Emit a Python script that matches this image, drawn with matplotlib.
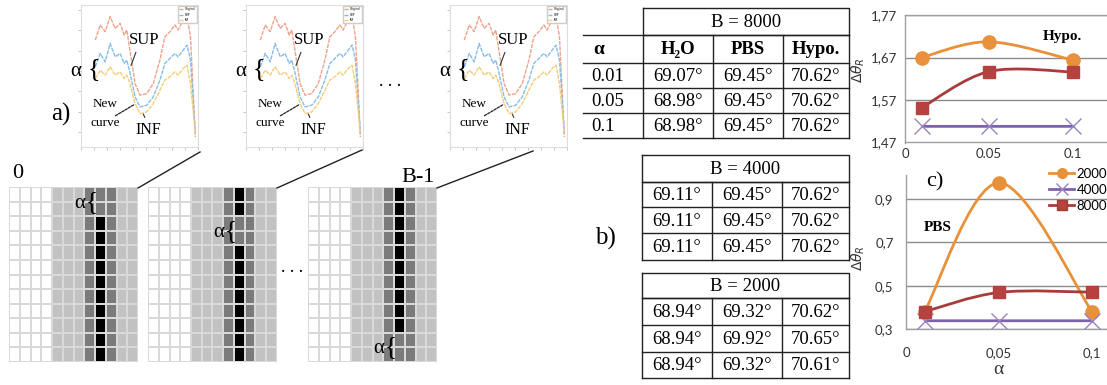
import numpy as np
import matplotlib
matplotlib.use('Agg')
import matplotlib.pyplot as plt
from matplotlib.colors import ListedColormap
from matplotlib.path import Path
from matplotlib.patches import PathPatch
from matplotlib.lines import Line2D

# ---------------- data ----------------
# c) charts
alpha_vals = [0.01, 0.05, 0.1]
series_labels = ['2000', '4000', '8000']
hypo_2000 = [1.670, 1.707, 1.664]
hypo_4000 = [1.508, 1.508, 1.508]
hypo_8000 = [1.552, 1.637, 1.636]
pbs_2000 = [0.380, 0.975, 0.380]
pbs_4000 = [0.338, 0.338, 0.338]
pbs_8000 = [0.380, 0.469, 0.470]
hypo_yticks = [1.47, 1.57, 1.67, 1.77]
hypo_yticklabels = ['1,47', '1,57', '1,67', '1,77']
hypo_xticks = [0, 0.05, 0.1]
hypo_xticklabels = ['0', '0.05', '0.1']
pbs_yticks = [0.3, 0.5, 0.7, 0.9]
pbs_yticklabels = ['0,3', '0,5', '0,7', '0,9']
pbs_xticks = [0, 0.05, 0.1]
pbs_xticklabels = ['0', '0,05', '0,1']

# b) tables
table_headers = ['H₂O', 'PBS', 'Hypo.']
table_alpha = ['0.01', '0.05', '0.1']
table_titles = ['B = 8000', 'B = 4000', 'B = 2000']
b8000 = [['69.07°', '69.45°', '70.62°'],
         ['68.98°', '69.45°', '70.62°'],
         ['68.98°', '69.45°', '70.62°']]
b4000 = [['69.11°', '69.45°', '70.62°'],
         ['69.11°', '69.45°', '70.62°'],
         ['69.11°', '69.45°', '70.62°']]
b2000 = [['68.94°', '69.32°', '70.62°'],
         ['68.94°', '69.92°', '70.65°'],
         ['68.94°', '69.32°', '70.61°']]

# a) pixel grids: column shade levels (0 white, 1 light, 2 dark, 3 black)
grid_col_levels = [0, 0, 0, 0, 1, 1, 1, 2, 3, 2, 1, 1]
grid_n_rows = 12
grid_alpha_rows = [[0, 1], [2, 3], [10, 11]]
grid_names = ['0', '', 'B-1']

# a) thumbnail curves
thumb_x = [1.10, 1.48, 1.86, 2.24, 2.63, 3.01, 3.32, 3.52, 3.72, 4.16, 4.54,
           5.05, 5.56, 6.07, 6.45, 6.84, 7.22, 7.47, 7.86, 8.16, 8.42, 8.80]
thumb_sup = [7.53, 8.59, 8.12, 9.18, 8.35, 8.71, 7.88, 8.24, 7.06, 4.47, 3.65,
             3.76, 4.47, 6.12, 7.76, 8.12, 8.59, 8.24, 8.94, 9.18, 7.76, 0.70]
thumb_mid = [5.65, 6.59, 6.00, 7.29, 6.35, 6.59, 5.88, 6.12, 5.41, 3.53, 2.82,
             2.94, 3.53, 4.71, 5.88, 6.24, 6.59, 6.35, 6.82, 7.18, 6.12, 0.94]
thumb_inf = [4.82, 5.41, 5.06, 5.65, 5.06, 5.29, 4.82, 5.06, 4.59, 3.06, 2.35,
             2.47, 3.06, 4.00, 4.71, 4.94, 5.29, 5.06, 5.53, 5.76, 4.47, 0.94]

# ---------------- layout helpers ----------------
W, H = 1107, 385
fig = plt.figure(figsize=(W / 100, H / 100), dpi=100)
SERIF = ['Liberation Serif', 'DejaVu Serif']
SANS = ['Lato', 'DejaVu Sans']


def rect(x0, y0, x1, y1):
    return [x0 / W, 1 - y1 / H, (x1 - x0) / W, (y1 - y0) / H]


# overlay axes in pixel coordinates for labels, tables, connectors
ov = fig.add_axes([0, 0, 1, 1], zorder=5)
ov.set_xlim(0, W)
ov.set_ylim(H, 0)
ov.axis('off')
ov.patch.set_alpha(0)

# ---------------- a) thumbnails ----------------
thumb_spans = [(81, 198), (246, 363), (450, 567)]
for (x0, x1) in thumb_spans:
    ax = fig.add_axes(rect(x0, 5, x1, 147))
    ax.set_xlim(0, 9)
    ax.set_ylim(0, 10)
    ax.plot(thumb_x, thumb_sup, color='#f0a28a', lw=1.0, ls=(0, (3, 0.8)))
    ax.plot(thumb_x, thumb_mid, color='#86bde8', lw=1.0, ls=(0, (3, 0.8)))
    ax.plot(thumb_x, thumb_inf, color='#f5cd78', lw=1.0, ls=(0, (3, 0.8)))
    for sp in ax.spines.values():
        sp.set_color('#dddddd')
        sp.set_linewidth(0.8)
    ax.set_xticks(np.arange(0, 10))
    ax.set_yticks(np.linspace(1.05, 9.65, 7))
    ax.tick_params(length=2, width=0.6, color='#bbbbbb', labelleft=False,
                   labelbottom=False)
    ax.legend(['Original', 'SUP', 'INF'], loc='upper right', fontsize=2,
              handlelength=1.5, borderpad=0.3, framealpha=1,
              fancybox=False, edgecolor='#cccccc')
    ax.text(4.85, 7.5, 'SUP', family=SERIF, fontsize=12, ha='center',
            va='center', clip_on=False)
    ax.annotate('', xy=(3.77, 5.56), xytext=(4.3, 6.85),
                arrowprops=dict(arrowstyle='-', color='#333333', lw=0.8))
    ax.text(5.2, 1.2, 'INF', family=SERIF, fontsize=11.5, ha='center',
            va='center', clip_on=False)
    ax.annotate('', xy=(4.7, 2.5), xytext=(5.0, 1.9),
                arrowprops=dict(arrowstyle='-', color='#333333', lw=0.8))
    ax.text(1.85, 3.05, 'New', family=SERIF, fontsize=9.5, ha='center',
            va='center', clip_on=False)
    ax.text(1.85, 1.7, 'curve', family=SERIF, fontsize=9.5, ha='center',
            va='center', clip_on=False)
    ax.annotate('', xy=(4.3, 3.1), xytext=(2.46, 2.1),
                arrowprops=dict(arrowstyle='-', color='#222222', lw=0.9,
                                linestyle=(0, (2, 1))))
    ax.text(-0.4, 5.35, 'α', family=SERIF, fontsize=15, ha='center',
            va='center', clip_on=False)
    ax.text(1.0, 5.5, '{', family=SERIF, fontsize=19, ha='center',
            va='center', clip_on=False)

# ---------------- a) pixel grids ----------------
cmap = ListedColormap(['#ffffff', '#c2c2c2', '#7b7b7b', '#000000'])
grid_spans = [(9, 138), (148, 277), (308, 437)]
for (x0, x1), arows, name in zip(grid_spans, grid_alpha_rows, grid_names):
    ax = fig.add_axes(rect(x0, 187, x1, 362))
    M = np.tile(np.array(grid_col_levels), (grid_n_rows, 1))
    black_col = grid_col_levels.index(3)
    M[arows, black_col] = 2
    ax.pcolormesh(M, cmap=cmap, vmin=-0.5, vmax=3.5, edgecolors='#d9d9d9',
                  linewidth=1.3)
    ax.set_xlim(0, len(grid_col_levels))
    ax.set_ylim(grid_n_rows, 0)
    ax.axis('off')
    yc = np.mean(arows) + 0.5
    ax.text(black_col - 1.4, yc + 0.1, 'α', family=SERIF, fontsize=15,
            ha='center', va='center', clip_on=False)
    ax.text(black_col - 0.3, yc, '{', family=SERIF, fontsize=18,
            ha='center', va='center', clip_on=False)

ov.text(18, 173, grid_names[0], family=SERIF, fontsize=16, ha='center',
        va='center')
ov.text(418, 177, grid_names[2], family=SERIF, fontsize=16, ha='center',
        va='center')
ov.text(61, 114, 'a)', family=SERIF, fontsize=18, ha='center', va='center')
ov.text(390, 82, '. . .', family=SERIF, fontsize=13, ha='center',
        va='center')
ov.text(292, 268, '. . .', family=SERIF, fontsize=13, ha='center',
        va='center')
# connector lines grid -> thumbnail
connector_ends = [(200, 152), (362, 150), (533, 151)]
for (gx0, gx1), (ex, ey) in zip(grid_spans, connector_ends):
    ov.plot([gx1, ex], [188, ey], color='#222222', lw=1.0)

# ---------------- b) tables ----------------
LC = '#222222'
TLW = 1.0


def draw_table(col_edges, row_edges, title, rows, alpha_col=None,
               headers=None):
    x_left, x_right = col_edges[0], col_edges[-1]
    ov.plot([x_left, x_right, x_right, x_left, x_left],
            [row_edges[0], row_edges[0], row_edges[1], row_edges[1],
             row_edges[0]], color=LC, lw=TLW)
    ov.text((x_left + x_right) / 2, (row_edges[0] + row_edges[1]) / 2 + 1,
            title, family=SERIF, fontsize=13.5, ha='center', va='center')
    body_rows = row_edges[1:]
    xl = alpha_col[0] if alpha_col else x_left
    for y in body_rows:
        ov.plot([xl, x_right], [y, y], color=LC, lw=TLW)
    for x in col_edges:
        ov.plot([x, x], [body_rows[0], body_rows[-1]], color=LC, lw=TLW)
    r = 0
    if headers:
        for j, h in enumerate(headers):
            ov.text((col_edges[j] + col_edges[j + 1]) / 2,
                    (body_rows[0] + body_rows[1]) / 2 + 1, h, family=SERIF,
                    fontsize=13.5, weight='bold', ha='center', va='center')
        ov.text(alpha_col[0] + 10, (body_rows[0] + body_rows[1]) / 2 + 1, 'α',
                family=SERIF, fontsize=14, weight='bold', ha='left',
                va='center')
        r = 1
    for i, row in enumerate(rows):
        yc = (body_rows[r + i] + body_rows[r + i + 1]) / 2 + 1
        for j, v in enumerate(row):
            ov.text((col_edges[j] + col_edges[j + 1]) / 2, yc, v,
                    family=SERIF, fontsize=13.5, ha='center', va='center')
        if alpha_col:
            ov.text(alpha_col[0] + 8, yc, table_alpha[i], family=SERIF,
                    fontsize=13.5, ha='left', va='center')


draw_table([643, 713, 783, 849], [8, 35, 63, 88, 113, 138], table_titles[0],
           b8000, alpha_col=(583, 643), headers=table_headers)
draw_table([642, 712, 782, 849], [155, 182, 207, 233, 260], table_titles[1],
           b4000)
draw_table([642, 712, 782, 849], [273, 298, 325, 352, 378], table_titles[2],
           b2000)
ov.text(605, 238, 'b)', family=SERIF, fontsize=18, ha='center', va='center')

# ---------------- c) charts ----------------
C_OR = '#E8913A'
C_PU = '#7E62A8'
C_RD = '#A83C3B'
C_RDM = '#B5423F'
GRIDC = '#8c8c8c'


def smooth(ax, xs, ys, color, lw=2.0):
    pts = np.column_stack([xs, ys]).astype(float)
    n = len(pts)
    verts = [pts[0]]
    codes = [Path.MOVETO]
    for i in range(n - 1):
        p0 = pts[i - 1] if i > 0 else pts[i]
        p1, p2 = pts[i], pts[i + 1]
        p3 = pts[i + 2] if i + 2 < n else pts[i + 1]
        verts += [p1 + (p2 - p0) / 6, p2 - (p3 - p1) / 6, p2]
        codes += [Path.CURVE4] * 3
    ax.add_patch(PathPatch(Path(verts, codes), facecolor='none',
                           edgecolor=color, lw=lw, zorder=3))


def style_chart(ax, yticks, ylabels, xticks, xlabels, xpad, ypad):
    ax.set_yticks(yticks)
    ax.set_yticklabels(ylabels, family=SANS, fontsize=9.5, color='#333333')
    ax.set_xticks(xticks)
    ax.set_xticklabels(xlabels, family=SANS, fontsize=9.5, color='#333333')
    ax.tick_params(length=0)
    ax.tick_params(axis='x', pad=xpad)
    ax.tick_params(axis='y', pad=ypad)
    ax.yaxis.grid(True, color=GRIDC, lw=1.0)
    ax.set_axisbelow(True)
    ax.spines['right'].set_visible(False)
    for s in ['left', 'bottom', 'top']:
        ax.spines[s].set_color('#a0a0a0')
        ax.spines[s].set_linewidth(1.0)
    ax.patch.set_alpha(0)


def draw_series(ax, y2000, y4000, y8000):
    smooth(ax, alpha_vals, y2000, C_OR)
    smooth(ax, alpha_vals, y8000, C_RD)
    smooth(ax, alpha_vals, y4000, C_PU)
    ax.plot(alpha_vals, y2000, ls='none', marker='o', ms=9.5, color=C_OR,
            zorder=4, clip_on=False)
    ax.plot(alpha_vals, y4000, ls='none', marker='x', ms=11, mew=1.0,
            color='#9783c2', zorder=4, clip_on=False)
    ax.plot(alpha_vals, y8000, ls='none', marker='s', ms=9, color=C_RDM,
            zorder=4, clip_on=False)


axh = fig.add_axes(rect(905, 15, 1107, 142.5))
axh.set_xlim(0, 0.1205)
axh.set_ylim(1.47, 1.77)
draw_series(axh, hypo_2000, hypo_4000, hypo_8000)
style_chart(axh, hypo_yticks, hypo_yticklabels, hypo_xticks,
            hypo_xticklabels, 4, 5.5)
axh.set_ylabel(r'$\Delta\theta_R$', fontsize=10, color='#333333')
axh.yaxis.set_label_coords(-0.19, 0.57)
axh.text(0.78, 0.83, 'Hypo.', transform=axh.transAxes, family=SERIF,
         fontsize=11, weight='bold', ha='center', va='center')

axp = fig.add_axes(rect(906, 175, 1107, 329))
axp.set_xlim(0, 0.108)
axp.set_ylim(0.3, 1.011)
draw_series(axp, pbs_2000, pbs_4000, pbs_8000)
style_chart(axp, pbs_yticks, pbs_yticklabels, pbs_xticks, pbs_xticklabels,
            13, 9)
axp.spines['top'].set_visible(False)
axp.set_ylabel(r'$\Delta\theta_R$', fontsize=10, color='#333333')
axp.yaxis.set_label_coords(-0.195, 0.46)
axp.set_xlabel('α', family=SERIF, fontsize=14, color='#333333')
axp.xaxis.set_label_coords(0.458, -0.205)
axp.text(0.16, 0.66, 'PBS', transform=axp.transAxes, family=SERIF,
         fontsize=11, weight='bold', ha='center', va='center')
axp.text(0.145, 0.955, 'c)', transform=axp.transAxes, family=SERIF,
         fontsize=16, ha='center', va='center')
handles = [
    Line2D([], [], color=C_OR, lw=2, marker='o', ms=7),
    Line2D([], [], color=C_PU, lw=2, marker='x', ms=9, mec='#9783c2'),
    Line2D([], [], color=C_RD, lw=2, marker='s', ms=7, mfc=C_RDM),
]
axp.legend(handles, series_labels, loc='upper right',
           bbox_to_anchor=((1107 - 906) / 201, (329 - 168) / 154),
           frameon=False, prop={'family': SANS, 'size': 9.5},
           handlelength=1.9, handletextpad=0.15, labelspacing=0.3,
           borderpad=0, borderaxespad=0)

fig.savefig('out.png', dpi=100)
